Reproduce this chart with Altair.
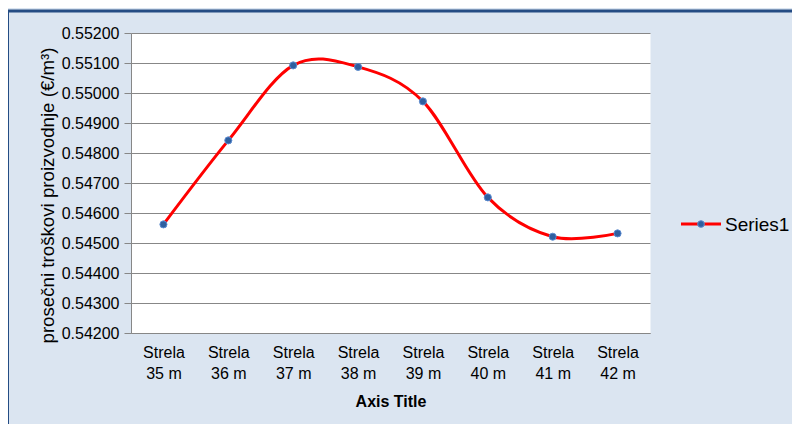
import altair as alt
import pandas as pd

# ---- data ----
categories = ["Strela 35 m", "Strela 36 m", "Strela 37 m", "Strela 38 m",
              "Strela 39 m", "Strela 40 m", "Strela 41 m", "Strela 42 m"]
values = [0.54562, 0.54842, 0.55092, 0.55087, 0.54972, 0.54652, 0.54521, 0.54532]
y_ticks = [0.542, 0.543, 0.544, 0.545, 0.546, 0.547, 0.548, 0.549, 0.550, 0.551, 0.552]
series_names = ["Series1"]
y_title = "prosečni troškovi proizvodnje (€/m³)"
x_title = "Axis Title"

df = pd.DataFrame({"cat": categories, "val": values})
legend_df = pd.DataFrame({"name": series_names})
one = pd.DataFrame({"a": [0]})

W, H = 519, 300
FONT = "Liberation Sans"
GRID = "#878787"

x_enc = alt.X(
    "cat:N", sort=categories,
    scale=alt.Scale(type="point", padding=0.5),
    axis=alt.Axis(
        title=x_title, labelAngle=0, ticks=False, grid=False,
        labelExpr="[substring(datum.value, 0, 6), substring(datum.value, 7)]",
        labelFont=FONT, labelFontSize=16, labelColor="#000000",
        labelLineHeight=21, labelPadding=11,
        domainColor=GRID, domainWidth=1,
        titleFont=FONT, titleFontWeight="bold", titleFontSize=16,
        titleColor="#000000", titlePadding=12,
    ),
)
y_enc = alt.Y(
    "val:Q",
    scale=alt.Scale(domain=[y_ticks[0], y_ticks[-1]], nice=False, zero=False),
    axis=alt.Axis(
        values=y_ticks, format=".5f", grid=True, gridColor=GRID, gridWidth=1,
        tickColor=GRID, tickSize=7, labelPadding=5,
        labelFont=FONT, labelFontSize=16, labelColor="#000000",
        domainColor=GRID, domainWidth=1,
        title=y_title, titleFont=FONT, titleFontSize=18.7, titleFontWeight="normal",
        titleColor="#000000", titleX=-74, titleY=162,
    ),
)

base = alt.Chart(df).encode(x=x_enc, y=y_enc)
line = base.mark_line(interpolate="cardinal", color="#ff0000", strokeWidth=3)
pts = base.mark_point(filled=True, size=50, fill="#2f5f9f", stroke="#5b8bd0",
                      strokeWidth=1, opacity=1)

border = alt.Chart(one).mark_rect(fillOpacity=0, stroke="#244c84", strokeWidth=3).encode(
    x=alt.value(-123.5), x2=alt.value(720), y=alt.value(-22), y2=alt.value(440)
)

leg_line = alt.Chart(legend_df).mark_rule(color="#ff0000", strokeWidth=3).encode(
    x=alt.value(550), x2=alt.value(590), y=alt.value(191)
)
leg_pt = alt.Chart(legend_df).mark_point(filled=True, size=45, fill="#2f5f9f",
                                         stroke="#5b8bd0", strokeWidth=1, opacity=1).encode(
    x=alt.value(570), y=alt.value(191)
)
leg_txt = alt.Chart(legend_df).mark_text(align="left", baseline="middle", font=FONT,
                                         fontSize=19, color="#000000").encode(
    x=alt.value(594), y=alt.value(192), text="name:N"
)

chart = alt.layer(line, pts, border, leg_line, leg_pt, leg_txt).properties(
    width=W, height=H,
    autosize=alt.AutoSizeParams(type="none"),
    padding={"left": 123, "top": 25, "right": 142, "bottom": 91},
    background="#dbe5f1",
).configure_view(fill="#ffffff", stroke="transparent")

chart.save("out.html", embed_options={"renderer": "svg", "actions": False})
